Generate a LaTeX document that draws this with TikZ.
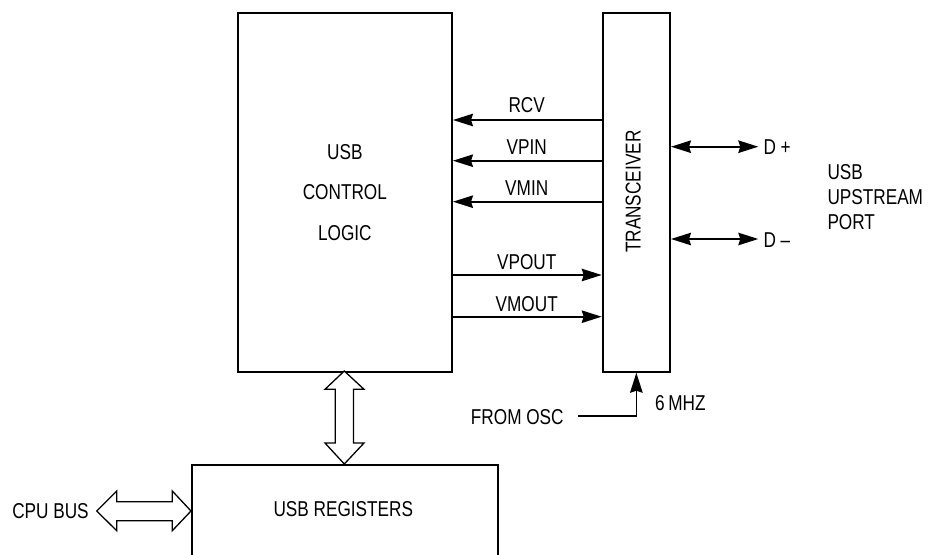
\documentclass[tikz,border=0pt]{standalone}
\usepackage{fontspec}
\setmainfont{Liberation Sans}[FakeStretch=0.8]
\usetikzlibrary{arrows.meta}
\begin{document}
\begin{tikzpicture}[x=1pt,y=-1pt,
  box/.style={draw, line width=2pt, inner sep=0pt, anchor=north west},
  lbl/.style={font=\fontsize{21.5}{26}\selectfont, inner sep=0pt},
  tip/.tip={Stealth[length=20pt,width=12.5pt,inset=2pt]},
  sig/.style={line width=1.7pt, -tip},
  bisig/.style={line width=1.7pt, tip-tip},
  fat/.style={line width=1.3pt, fill=white, line join=miter}]
\path[use as bounding box] (0,0) rectangle (934,554);
\clip (0,0) rectangle (934,554);

% boxes
\node[box, minimum width=214.3pt, minimum height=358.4pt, align=center,
      font=\fontsize{21.5}{40.6}\selectfont] (ctl) at (236.7,12.3) {USB\\CONTROL\\LOGIC};
\node[box, minimum width=67.3pt, minimum height=358.4pt] (trx) at (601.7,12.3) {};
\node[lbl, rotate=90] (trxlbl) at (633.3,191.7) {TRANSCEIVER};
\node[box, minimum width=305.7pt, minimum height=160pt] (reg) at (191,464) {};
\node[lbl] (reglbl) at (343.3,509) {USB REGISTERS};

% row coordinates
\coordinate (yrcv) at (0,120);
\coordinate (yvpin) at (0,160.7);
\coordinate (yvmin) at (0,201.7);
\coordinate (yvpout) at (0,275);
\coordinate (yvmout) at (0,316.7);

% signals between transceiver and control logic
\draw[sig] (trx.west |- yrcv) -- (ctl.east |- yrcv);
\draw[sig] (trx.west |- yvpin) -- (ctl.east |- yvpin);
\draw[sig] (trx.west |- yvmin) -- (ctl.east |- yvmin);
\draw[sig] (ctl.east |- yvpout) -- (trx.west |- yvpout);
\draw[sig] (ctl.east |- yvmout) -- (trx.west |- yvmout);

\node[lbl] (lrcv) at (526.7,105) {RCV};
\node[lbl] (lvpin) at (526.7,146.7) {VPIN};
\node[lbl] (lvmin) at (526.7,188) {VMIN};
\node[lbl] (lvpout) at (526.7,261.7) {VPOUT};
\node[lbl] (lvmout) at (526.7,304.5) {VMOUT};

% USB port lines
\coordinate (dp) at (758.3,146.7);
\coordinate (dm) at (758.3,239);
\draw[bisig] (trx.east |- dp) -- (dp);
\draw[bisig] (trx.east |- dm) -- (dm);
\node[lbl, anchor=west] (ldp) at (763.3,147.5) {D +};
\node[lbl, anchor=west] (ldm) at (763.3,240) {D –};
\node[lbl, anchor=west, align=left, font=\fontsize{21.5}{25}\selectfont] (port) at (827.3,197.5) {USB\\UPSTREAM\\PORT};

% oscillator
\node[lbl] (fromosc) at (517.3,416.7) {FROM OSC};
\coordinate (osc) at (578.3,416);
\draw[sig] (osc) -| (trx.south);
\node[lbl, anchor=west] (mhz) at (655,403) {6\,MHZ};

% vertical fat double arrow between control logic and registers
\draw[fat] (344.3,371) -- (364,389.3) -- (353.5,389.3) -- (353.5,443) -- (364,443)
  -- (344.3,464) -- (325,443) -- (335.2,443) -- (335.2,389.3) -- (325,389.3) -- cycle;

% CPU bus fat double arrow
\draw[fat] (96.7,511) -- (116.7,491) -- (116.7,501.7) -- (172.3,501.7) -- (172.3,491)
  -- (191,511) -- (172.3,530.7) -- (172.3,520.7) -- (116.7,520.7) -- (116.7,530.7) -- cycle;
\node[lbl] (cpubus) at (50.5,511) {CPU BUS};
\end{tikzpicture}
\end{document}
